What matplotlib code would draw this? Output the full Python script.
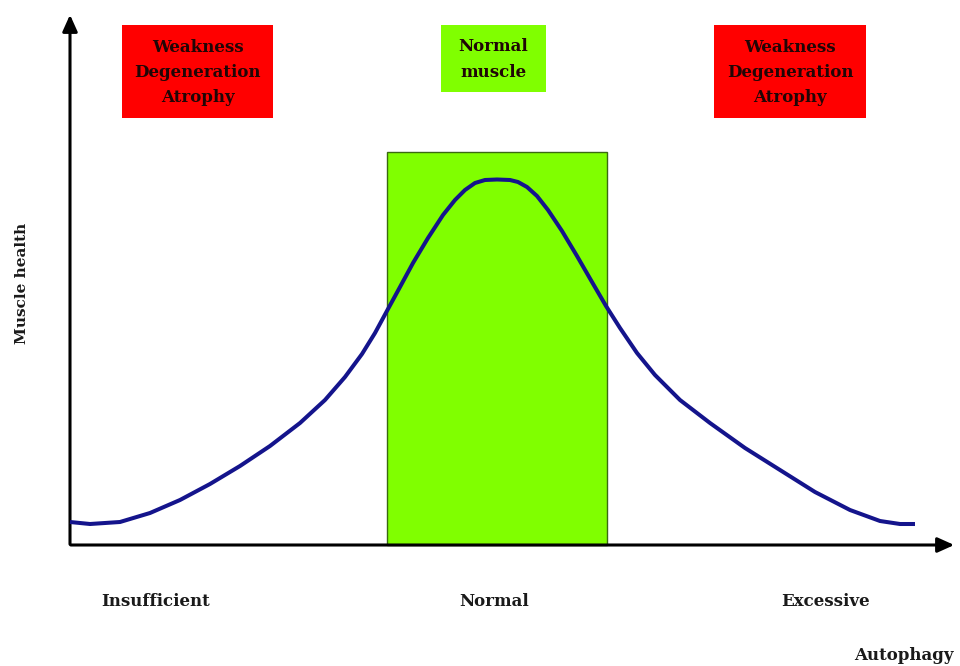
import numpy as np
import matplotlib.pyplot as plt
from matplotlib.patches import Rectangle

# curve, pixel coords (x right, y down)
curve_x = [70, 90, 120, 150, 180, 210, 240, 270, 300, 325, 345, 362, 375, 388, 400, 413,
           428, 443, 455, 465, 475, 485, 497, 510, 518, 527, 537, 548, 562, 577, 592, 606,
           620, 637, 655, 680, 710, 745, 780, 815, 850, 880, 900, 915]
curve_y = [522, 524, 522, 513, 500, 484, 466, 446, 423, 400, 377, 354, 333, 309, 287, 263,
           238, 215, 200, 190, 183, 180, 179.5, 180, 182, 187, 196, 210, 231, 256, 282, 306,
           328, 353, 375, 400, 423, 448, 470, 492, 510, 521, 524, 524]

region_labels = ['Insufficient', 'Normal', 'Excessive']
region_x = [156, 494, 825]
box_texts = ['Weakness\nDegeneration\nAtrophy', 'Normal\nmuscle', 'Weakness\nDegeneration\nAtrophy']
box_colors = ['#ff0000', '#80ff00', '#ff0000']
box_spans = [(122, 273, 25, 118), (441, 546, 25, 92), (714, 866, 25, 118)]

fig = plt.figure(figsize=(9.6, 6.66), dpi=100)
ax = fig.add_axes([0, 0, 1, 1])
ax.set_xlim(0, 960)
ax.set_ylim(666, 0)
ax.axis('off')

font = dict(family='DejaVu Serif', weight='bold')

# green "normal" band
ax.add_patch(Rectangle((387, 152), 220, 393, facecolor='#80ff00', edgecolor='#3a6a10', lw=1, zorder=1))

# axes arrows
ax.annotate('', xy=(70, 12), xytext=(70, 547),
            arrowprops=dict(arrowstyle='-|>,head_width=0.45,head_length=1.0', color='black', lw=2.2))
ax.annotate('', xy=(957, 545), xytext=(68, 545),
            arrowprops=dict(arrowstyle='-|>,head_width=0.45,head_length=1.0', color='black', lw=2.2))

ax.plot(curve_x, curve_y, color='#14148c', lw=2.9, solid_capstyle='butt',
        solid_joinstyle='round', zorder=3)

for (x0, x1, y0, y1), c, t in zip(box_spans, box_colors, box_texts):
    ax.add_patch(Rectangle((x0, y0), x1 - x0, y1 - y0, facecolor=c, edgecolor='none', zorder=2))
    ax.text((x0 + x1) / 2, (y0 + y1) / 2 + 1, t, ha='center', va='center', fontsize=12,
            color='#200606', linespacing=1.65, **font)

for lab, x in zip(region_labels, region_x):
    ax.text(x, 602, lab, ha='center', va='center', fontsize=12, color='#1a1a1a', **font)

ax.text(904, 655, 'Autophagy', ha='center', va='center', fontsize=12, color='#1a1a1a', **font)
ax.text(22, 283, 'Muscle health', ha='center', va='center', rotation=90, fontsize=11,
        color='#1a1a1a', **font)

fig.savefig('out.png', dpi=100)
